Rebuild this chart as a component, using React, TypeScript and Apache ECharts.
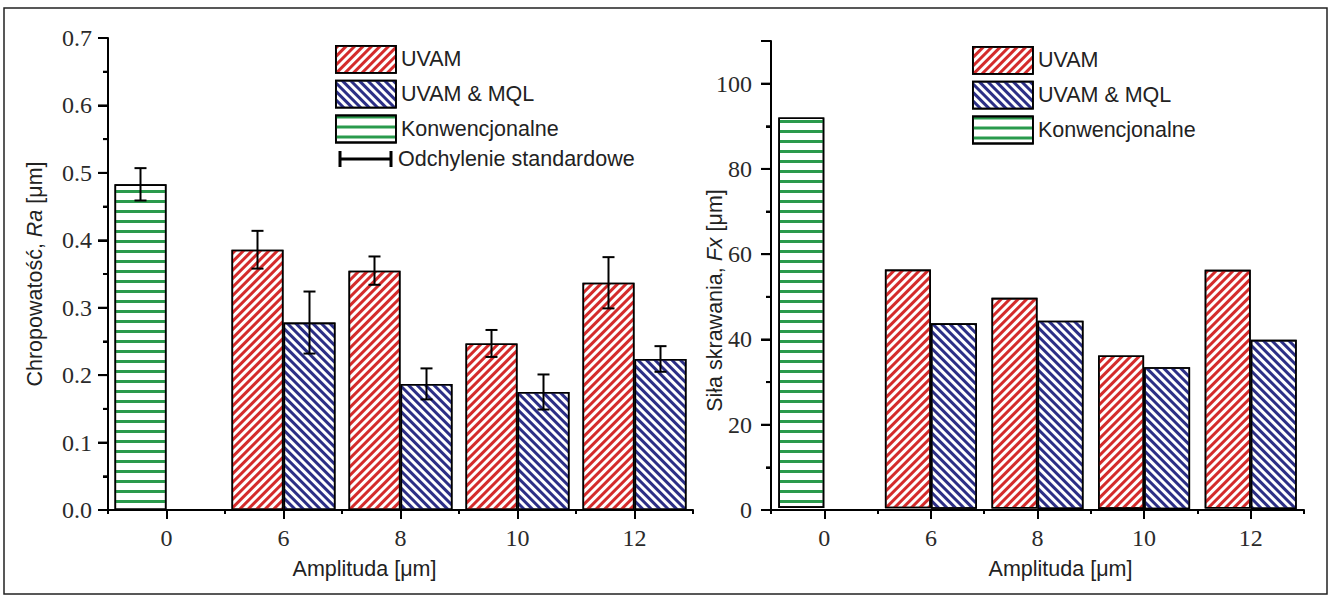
import React, { useEffect, useRef } from 'react';
import * as echarts from 'echarts';

// ---- data ----
const categories = ['0', '6', '8', '10', '12'];
const seriesNames = ['UVAM', 'UVAM & MQL', 'Konwencjonalne'];

// Roughness Ra [µm]
const raConv = [0.483, null, null, null, null];
const raUvam = [null, 0.386, 0.355, 0.247, 0.337];
const raMql = [null, 0.278, 0.187, 0.175, 0.224];
const raConvErr = [0.024, null, null, null, null];
const raUvamErr = [null, 0.028, 0.021, 0.02, 0.038];
const raMqlErr = [null, 0.046, 0.023, 0.026, 0.019];

// Cutting force Fx
const fxConv = [91.6, null, null, null, null];
const fxUvam = [null, 56.0, 49.4, 36.0, 56.0];
const fxMql = [null, 43.5, 44.2, 33.3, 39.7];

// Axis scales
const raMax = 0.7;
const raStep = 0.1;
const fxMax = 110;
const fxStep = 20;

// ---- styles ----
const SERIF = 'Liberation Serif, Times New Roman, serif';
const SANS = 'Liberation Sans, Arial, sans-serif';
const INK = '#000000';
const TEXT = '#222222';
const RED = '#d42b2b';
const BLUE = '#2c2f86';
const GREEN = '#2a9a4c';
const LEFT_BAR_W = 52;
const RIGHT_BAR_W = 46;
const FS = 21.5;
const GRID_L = { left: 108, top: 38, width: 585, height: 472 };
const GRID_R = { left: 771, top: 41, width: 533, height: 469 };

const decalRed = { symbol: 'rect', symbolSize: 1, color: RED, dashArrayX: [1, 0], dashArrayY: [2.1, 2.3], rotation: -Math.PI / 4 };
const decalBlue = { symbol: 'rect', symbolSize: 1, color: BLUE, dashArrayX: [1, 0], dashArrayY: [2.1, 2.5], rotation: Math.PI / 4 };
const decalGreen = { symbol: 'rect', symbolSize: 1, color: GREEN, dashArrayX: [1, 0], dashArrayY: [2.6, 6.6], rotation: 0 };

const styleFor = (name: string) => {
  const decal = name === 'UVAM' ? decalRed : name === 'UVAM & MQL' ? decalBlue : decalGreen;
  return { color: '#ffffff', borderColor: INK, borderWidth: 1.6, decal };
};

function buildErrors() {
  const out: number[][] = [];
  const add = (vals: (number | null)[], errs: (number | null)[], side: number) => {
    vals.forEach((v, i) => {
      const e = errs[i];
      if (v != null && e != null) out.push([i, v - e, v + e, side]);
    });
  };
  add(raConv, raConvErr, -1);
  add(raUvam, raUvamErr, -1);
  add(raMql, raMqlErr, 1);
  return out;
}

function xAxes(gridIndex: number, nameShiftPadding: number[]) {
  return [
    {
      type: 'category',
      gridIndex,
      data: categories,
      position: 'bottom',
      axisLine: { show: true, lineStyle: { color: INK, width: 2 } },
      axisTick: { show: true, alignWithLabel: true, length: 9, lineStyle: { color: INK, width: 2 } },
      axisLabel: { fontFamily: SERIF, fontSize: 24, color: '#2a2a2a', margin: 16 },
      splitLine: { show: false },
      name: 'Amplituda [μm]',
      nameLocation: 'middle',
      nameGap: 48,
      nameTextStyle: { fontFamily: SANS, fontSize: FS, color: TEXT, padding: nameShiftPadding },
    },
    {
      type: 'category',
      gridIndex,
      data: categories,
      position: 'bottom',
      axisLine: { show: false },
      axisTick: { show: true, alignWithLabel: false, length: 4, lineStyle: { color: INK, width: 2 } },
      axisLabel: { show: false },
      splitLine: { show: false },
    },
  ];
}

function makeYAxis(gridIndex: number, max: number, interval: number, decimals: number, showMax: boolean, name: string, nameGap: number, padding: number[], margin: number, moveOverlap: boolean) {
  return {
    type: 'value',
    gridIndex,
    min: 0,
    max,
    interval,
    axisLine: { show: true, lineStyle: { color: INK, width: 2 } },
    axisTick: { show: true, length: 10, lineStyle: { color: INK, width: 2 } },
    minorTick: { show: true, splitNumber: 2, length: 5, lineStyle: { color: INK, width: 2 } },
    splitLine: { show: false },
    axisLabel: {
      fontFamily: SERIF,
      fontSize: 24,
      color: '#2a2a2a',
      margin,
      showMaxLabel: showMax,
      formatter: (v: number) => v.toFixed(decimals),
    },
    name,
    nameLocation: 'middle',
    nameRotate: 90,
    nameGap,
    nameMoveOverlap: moveOverlap,
    nameTextStyle: {
      padding,
      rich: {
        n: { fontFamily: SANS, fontSize: FS, color: TEXT },
        i: { fontFamily: SANS, fontSize: FS, color: TEXT, fontStyle: 'italic' },
      },
    },
  };
}

function barSeries(name: string, data: (number | null)[], xAxisIndex: number, yAxisIndex: number, stack: string, barWidth: number) {
  return {
    type: 'bar',
    name,
    data,
    xAxisIndex,
    yAxisIndex,
    stack,
    barWidth,
    barGap: '0%',
    itemStyle: styleFor(name),
    emphasis: { disabled: true },
  };
}

function legend(left: number, top: number) {
  return {
    orient: 'vertical',
    left,
    top,
    icon: 'rect',
    itemWidth: 60,
    itemHeight: 27,
    itemGap: 6,
    selectedMode: false,
    data: seriesNames,
    itemStyle: { borderColor: INK, borderWidth: 1.8 },
    textStyle: { fontFamily: SANS, fontSize: FS, color: TEXT },
  };
}

const baseGraphic = [
  {
    id: 'border',
    type: 'rect',
    silent: true,
    z: -1,
    shape: { x: 4, y: 8, width: 1323, height: 586 },
    style: { fill: 'none', stroke: '#222', lineWidth: 1.5 },
  },
  {
    id: 'errLegend',
    type: 'group',
    silent: true,
    children: [
      { type: 'line', shape: { x1: 340, y1: 159, x2: 391, y2: 159 }, style: { stroke: INK, lineWidth: 3 } },
      { type: 'line', shape: { x1: 340, y1: 151, x2: 340, y2: 167 }, style: { stroke: INK, lineWidth: 3 } },
      { type: 'line', shape: { x1: 391, y1: 151, x2: 391, y2: 167 }, style: { stroke: INK, lineWidth: 3 } },
      {
        type: 'text',
        x: 398,
        y: 159,
        style: { text: 'Odchylenie standardowe', fontFamily: SANS, fontSize: FS, fill: TEXT, verticalAlign: 'middle' },
      },
    ],
  },
];

export default function App() {
  const ref = useRef<HTMLDivElement>(null);

  useEffect(() => {
    if (!ref.current) return;
    const chart = echarts.init(ref.current, undefined, { renderer: 'svg' });
    const errData = buildErrors();

    const option = {
      animation: false,
      grid: [GRID_L, GRID_R],
      legend: [legend(330, 40), legend(967, 41)],
      xAxis: [...xAxes(0, [0, 72, 0, 0]), ...xAxes(1, [0, 0, 0, 46])],
      yAxis: [
        makeYAxis(0, raMax, raStep, 1, true, '{n|Chropowatość, }{i|Ra}{n| [μm]}', 62, [0, 0, 0, 0], 16, true),
        makeYAxis(1, fxMax, fxStep, 0, false, '{n|Siła skrawania, }{i|Fx}{n| [μm]}', 45, [0, 50, 0, 0], 19, false),
      ],
      series: [
        barSeries('UVAM', raUvam, 0, 0, 'a', LEFT_BAR_W),
        barSeries('UVAM & MQL', raMql, 0, 0, 'b', LEFT_BAR_W),
        barSeries('Konwencjonalne', raConv, 0, 0, 'a', LEFT_BAR_W),
        {
          type: 'custom',
          name: 'Odchylenie standardowe',
          xAxisIndex: 0,
          yAxisIndex: 0,
          z: 5,
          data: errData,
          encode: { x: 0, y: [1, 2] },
          renderItem: (params: any, api: any) => {
            const cat = api.value(0);
            const lo = api.coord([cat, api.value(1)]);
            const hi = api.coord([cat, api.value(2)]);
            const x = lo[0] + api.value(3) * (LEFT_BAR_W / 2);
            const cap = 6;
            const st = { stroke: INK, lineWidth: 2 };
            return {
              type: 'group',
              children: [
                { type: 'line', shape: { x1: x, y1: lo[1], x2: x, y2: hi[1] }, style: st },
                { type: 'line', shape: { x1: x - cap, y1: hi[1], x2: x + cap, y2: hi[1] }, style: st },
                { type: 'line', shape: { x1: x - cap, y1: lo[1], x2: x + cap, y2: lo[1] }, style: st },
              ],
            };
          },
        },
        barSeries('UVAM', fxUvam, 2, 1, 'a', RIGHT_BAR_W),
        barSeries('UVAM & MQL', fxMql, 2, 1, 'b', RIGHT_BAR_W),
        barSeries('Konwencjonalne', fxConv, 2, 1, 'a', RIGHT_BAR_W),
      ],
      graphic: baseGraphic,
    };

    chart.setOption(option as any);

    // Reinforce the vertical axis lines and ticks, positioned through the axes' own scales.
    const decor: any[] = [];
    const defs = [
      { yIdx: 0, x: GRID_L.left, max: raMax, step: raStep },
      { yIdx: 1, x: GRID_R.left, max: fxMax, step: fxStep },
    ];
    defs.forEach((d) => {
      const yBottom = chart.convertToPixel({ yAxisIndex: d.yIdx } as any, 0) as number;
      const yTop = chart.convertToPixel({ yAxisIndex: d.yIdx } as any, d.max) as number;
      decor.push({
        id: `ax${d.yIdx}`,
        type: 'line',
        silent: true,
        shape: { x1: d.x, y1: yBottom + 1, x2: d.x, y2: yTop },
        style: { stroke: INK, lineWidth: 2 },
      });
      const n = Math.round(d.max / (d.step / 2));
      for (let k = 0; k <= n; k++) {
        const y = chart.convertToPixel({ yAxisIndex: d.yIdx } as any, (k * d.step) / 2) as number;
        const len = k % 2 === 0 ? 10 : 5;
        decor.push({
          id: `tk${d.yIdx}_${k}`,
          type: 'line',
          silent: true,
          shape: { x1: d.x - len, y1: y, x2: d.x, y2: y },
          style: { stroke: INK, lineWidth: 2 },
        });
      }
    });
    chart.setOption({ graphic: [...baseGraphic, ...decor] } as any);

    return () => chart.dispose();
  }, []);

  return (
    <div
      ref={ref}
      style={{ position: 'fixed', left: 0, top: 0, width: 1331, height: 599, background: '#fff' }}
    />
  );
}
